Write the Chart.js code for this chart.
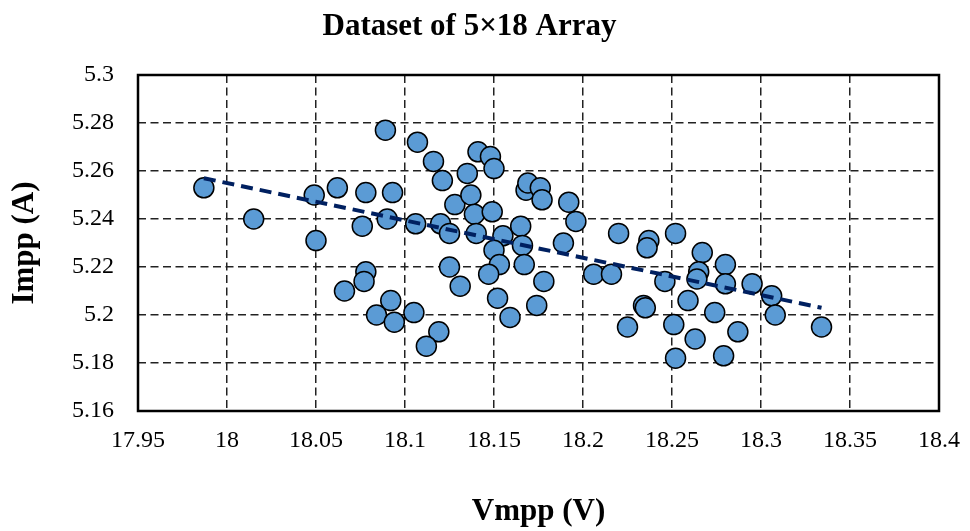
<!DOCTYPE html>
<html>
<head>
<meta charset="utf-8">
<title>Dataset of 5×18 Array</title>
<script src="https://cdn.jsdelivr.net/npm/chart.js@4.4.1/dist/chart.umd.min.js"></script>
<style>
  html, body { margin: 0; padding: 0; background: #fff; }
  .chart-wrap { position: relative; width: 970px; height: 531px; }
</style>
</head>
<body>
<div class="chart-wrap">
  <canvas id="mppChart"></canvas>
</div>
<script>
// Maximum power point of each module
const vmpp = [
  17.987, 18.015, 18.049, 18.050, 18.062, 18.078, 18.093, 18.090, 18.076, 18.089,
  18.078, 18.077, 18.066, 18.092, 18.084, 18.094, 18.105, 18.107, 18.116, 18.121,
  18.106, 18.120, 18.125, 18.128, 18.135, 18.137, 18.139, 18.140, 18.141, 18.148,
  18.150, 18.149, 18.155, 18.150, 18.153, 18.147, 18.125, 18.131, 18.152, 18.159,
  18.119, 18.112, 18.165, 18.166, 18.167, 18.178, 18.174, 18.168, 18.169, 18.176,
  18.177, 18.192, 18.196, 18.189, 18.206, 18.216, 18.220, 18.237, 18.236, 18.252,
  18.246, 18.234, 18.235, 18.225, 18.251, 18.252, 18.267, 18.265, 18.264, 18.280,
  18.280, 18.295, 18.306, 18.308, 18.334, 18.259, 18.274, 18.287, 18.263, 18.279
];
const impp = [
  5.253, 5.240, 5.250, 5.231, 5.253, 5.251, 5.251, 5.240, 5.237, 5.277,
  5.218, 5.214, 5.210, 5.206, 5.200, 5.197, 5.201, 5.272, 5.264, 5.256,
  5.238, 5.238, 5.234, 5.246, 5.259, 5.250, 5.242, 5.234, 5.268, 5.266,
  5.261, 5.243, 5.233, 5.227, 5.221, 5.217, 5.220, 5.212, 5.207, 5.199,
  5.193, 5.187, 5.237, 5.229, 5.221, 5.214, 5.204, 5.252, 5.255, 5.253,
  5.248, 5.247, 5.239, 5.230, 5.217, 5.217, 5.234, 5.231, 5.228, 5.234,
  5.214, 5.204, 5.203, 5.195, 5.196, 5.182, 5.226, 5.218, 5.215, 5.221,
  5.213, 5.213, 5.208, 5.200, 5.195, 5.206, 5.201, 5.193, 5.190, 5.183
];

// Linear trendline ends (as drawn in the original figure)
const trendV = [17.987, 18.334];
const trendI = [5.257, 5.203];

// Axis ticks
const xTicks = [17.95, 18, 18.05, 18.1, 18.15, 18.2, 18.25, 18.3, 18.35, 18.4];
const yTicks = [5.16, 5.18, 5.2, 5.22, 5.24, 5.26, 5.28, 5.3];

const serif = "'Liberation Serif', 'Times New Roman', serif";

// Solid frame round the plot area
const frame = {
  id: 'frame',
  afterDatasetsDraw(chart) {
    const a = chart.chartArea;
    const ctx = chart.ctx;
    ctx.save();
    ctx.strokeStyle = '#000';
    ctx.lineWidth = 2.5;
    ctx.strokeRect(a.left, a.top, a.right - a.left, a.bottom - a.top);
    ctx.restore();
  }
};

const points = vmpp.map((v, i) => ({ x: v, y: impp[i] }));
const trend = trendV.map((v, i) => ({ x: v, y: trendI[i] }));

new Chart(document.getElementById('mppChart'), {
  type: 'scatter',
  data: {
    datasets: [
      {
        label: 'Modules',
        data: points,
        backgroundColor: '#5B9BD5',
        borderColor: '#000',
        borderWidth: 1.5,
        pointRadius: 10,
        pointHoverRadius: 10,
        order: 1
      },
      {
        label: 'Linear trend',
        type: 'line',
        data: trend,
        borderColor: '#002060',
        borderWidth: 4,
        borderDash: [12, 7],
        pointRadius: 0,
        fill: false,
        order: 0
      }
    ]
  },
  options: {
    responsive: true,
    maintainAspectRatio: false,
    animation: false,
    layout: { padding: { left: 0, right: 31, top: 0, bottom: 0 } },
    plugins: {
      legend: { display: false },
      tooltip: { enabled: false },
      title: {
        display: true,
        text: 'Dataset of 5×18 Array',
        color: '#000',
        font: { family: serif, size: 31, weight: 'bold' },
        padding: { top: 8.4, bottom: 29.4 }
      }
    },
    scales: {
      x: {
        type: 'linear',
        min: 17.95,
        max: 18.4,
        afterBuildTicks: s => { s.ticks = xTicks.map(v => ({ value: v })); },
        afterFit: s => {
          s.height = 120;
          // the last label may hang into the right margin
          s.paddingLeft = 0;
          s.paddingRight = 0;
        },
        ticks: {
          color: '#000',
          padding: 15.6,
          maxRotation: 0,
          font: { family: serif, size: 24 },
          callback: v => String(v)
        },
        grid: { color: '#222', lineWidth: 1.5, drawTicks: false },
        border: { display: false, dash: [8, 4.5] },
        title: {
          display: true,
          text: 'Vmpp (V)',
          color: '#000',
          font: { family: serif, size: 31, weight: 'bold' },
          padding: { top: 36, bottom: 0 }
        }
      },
      y: {
        type: 'linear',
        min: 5.16,
        max: 5.3,
        afterBuildTicks: s => { s.ticks = yTicks.map(v => ({ value: v })); },
        afterFit: s => { s.width = 138; },
        ticks: {
          color: '#000',
          padding: 24,
          font: { family: serif, size: 24 },
          callback: v => String(v)
        },
        grid: { color: '#222', lineWidth: 1.5, drawTicks: false },
        border: { display: false, dash: [8, 4.5] },
        title: {
          display: true,
          text: 'Impp (A)',
          color: '#000',
          font: { family: serif, size: 31, weight: 'bold' },
          padding: { top: 6.4, bottom: 0 }
        }
      }
    }
  },
  plugins: [frame]
});
</script>
</body>
</html>
